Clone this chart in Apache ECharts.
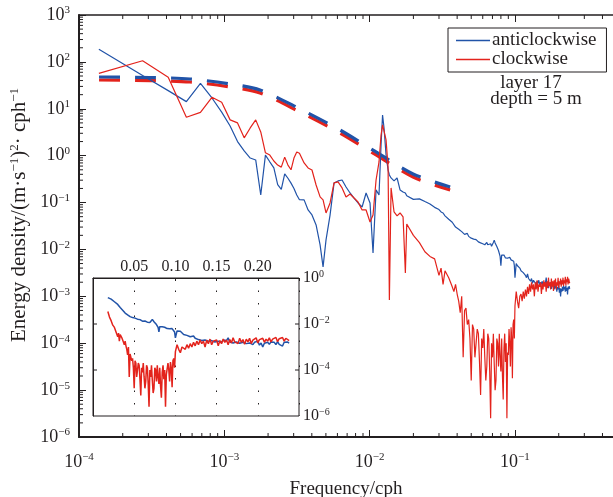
<!DOCTYPE html>
<html><head><meta charset="utf-8">
<script src="https://cdn.jsdelivr.net/npm/echarts@6/dist/echarts.min.js"></script>
<style>html,body{margin:0;padding:0;background:#fff}#c{width:613px;height:497px}</style>
</head><body><div id="c"></div>
<script>
// ---- data (frequency in cph, energy density in (m/s)^2/cph) ----
const lowFreq = [1.37e-4,2.74e-4,4.11e-4,5.48e-4,6.85e-4,8.22e-4,9.59e-4,1.096e-3,1.233e-3,1.37e-3,1.507e-3,1.644e-3,1.781e-3,1.918e-3,2.055e-3,2.192e-3,2.329e-3,2.466e-3,2.603e-3,2.74e-3,2.877e-3,3.014e-3,3.151e-3,3.288e-3];
const lowBlue = [186,51,24.4,14.2,35,17,8.5,4.3,2.0,1.26,0.89,0.81,0.145,1.03,0.74,0.55,0.24,0.19,0.41,0.33,0.26,0.20,0.145,0.115];
const lowRed  = [57,106,47,6.6,8.4,17.6,13.8,5.8,5.0,2.4,3.9,5.8,3.2,1.15,1.03,0.77,0.63,0.57,0.93,0.63,0.5,0.89,1.2,1.13];

const midFreq = [3.54e-3,3.77e-3,4.01e-3,4.28e-3,4.56e-3,4.78e-3,5.01e-3,5.34e-3,5.69e-3,6.06e-3,6.46e-3,6.88e-3,7.33e-3,7.81e-3,8.32e-3,8.87e-3,9.45e-3,1.006e-2,1.055e-2,1.107e-2,1.16e-2,1.198e-2,1.227e-2,1.256e-2,1.297e-2,1.339e-2,1.367e-2,1.404e-2,1.472e-2,1.544e-2,1.619e-2,1.698e-2,1.761e-2];
const midBlue = [0.114,0.0695,0.0544,0.0333,0.0125,0.00424,0.016,0.054,0.262,0.289,0.303,0.215,0.16,0.125,0.098,0.0805,0.16,0.098,0.0084,0.186,0.145,1.69,7.38,3.9,1.03,0.495,0.388,0.335,0.289,0.335,0.186,0.168,0.16];
const midRed  = [0.698,0.547,0.495,0.237,0.132,0.114,0.06,0.098,0.262,0.275,0.205,0.132,0.152,0.125,0.103,0.0695,0.0695,0.0385,0.0544,0.303,0.734,2.76,4.52,4.1,2.16,0.574,0.00084,0.205,0.063,0.0518,0.06,0.0493,0.00315];

const hfAFreq = [0.018,0.020,0.022,0.024,0.026,0.028];
const hfABlue = [1.4e-1,1.17e-1,1.2e-1,1.05e-1,9.3e-2,7.9e-2];
const hfARed  = [3.5e-2,2.0e-2,1.4e-2,8.9e-3,7.1e-3,6.3e-3];

const troughFreq = [
0.030,0.031,0.032,0.033,0.034,0.035,0.036,0.037,0.038,0.039,
0.040,0.041,0.042,0.043,0.044,0.045,0.046,0.047,0.048,0.049,
0.050,0.051,0.052,0.053,0.054,0.055,0.056,0.057,0.058,0.059,
0.060,0.061,0.062,0.063,0.064,0.065,0.066,0.067,0.068,0.069,
0.070,0.071,0.072,0.073,0.074,0.075,0.076,0.077,0.078,0.079,
0.080,0.081,0.082,0.083,0.084,0.085,0.086,0.087,0.088,0.089,
0.090,0.091,0.092,0.093,0.094,0.095,0.096,0.097,0.098,0.099,
0.100];
const troughBlue = [
7.1e-2,6.3e-2,6.0e-2,5.2e-2,5.0e-2,4.4e-2,4.0e-2,3.8e-2,3.5e-2,3.0e-2,
2.8e-2,2.7e-2,2.5e-2,2.4e-2,2.3e-2,2.1e-2,2.0e-2,2.2e-2,1.9e-2,1.8e-2,
1.74e-2,1.8e-2,1.66e-2,1.58e-2,1.62e-2,1.5e-2,1.45e-2,1.55e-2,1.38e-2,1.45e-2,
1.32e-2,1.38e-2,1.26e-2,1.35e-2,1.41e-2,1.26e-2,1.2e-2,1.32e-2,1.32e-2,1.17e-2,
1.12e-2,1.41e-2,1.58e-2,1.38e-2,1.26e-2,1.15e-2,1.05e-2,9.5e-3,8.9e-3,7.1e-3,
4.5e-3,7.6e-3,7.1e-3,7.9e-3,7.6e-3,6.9e-3,6.6e-3,7.2e-3,7.1e-3,6.5e-3,
6.3e-3,6.9e-3,6.8e-3,6.2e-3,6.0e-3,6.5e-3,6.3e-3,5.8e-3,5.6e-3,4.5e-3,
2.5e-3];
const troughRed = [
2.8e-3,4.0e-3,1.8e-3,3.5e-3,3.5e-3,2.5e-3,2.0e-3,1.6e-3,1.26e-3,1.8e-3,
1.12e-3,7.9e-4,4.5e-4,1.0e-3,5.0e-5,5.0e-4,5.6e-4,2.5e-4,3.2e-4,1.26e-4,
1.6e-5,2.5e-4,2.0e-4,5.0e-5,1.0e-4,2.0e-4,1.6e-4,4.0e-5,7.9e-6,1.26e-4,
7.9e-5,2.0e-4,5.0e-5,1.6e-5,3.2e-5,1.6e-4,1.26e-4,2.5e-5,2.5e-6,1.0e-4,
5.0e-5,1.6e-4,3.5e-5,1.0e-5,1.6e-5,1.26e-4,1.0e-4,3.2e-5,1.6e-4,5.0e-5,
2.5e-5,1.26e-4,2.0e-5,6.3e-6,7.9e-5,1.6e-4,4.0e-5,1.0e-4,2.5e-6,6.3e-5,
5.6e-5,2.0e-4,1.0e-4,3.2e-5,2.2e-4,1.26e-4,1.8e-5,2.5e-4,3.2e-4,1.26e-4,
6.3e-4];

const hfBFreq = [
0.102,0.104,0.106,0.108,0.110,0.112,0.114,0.116,
0.118,0.120,0.122,0.124,0.126,0.128,0.130,0.132,0.134,0.136,
0.138,0.140,0.142,0.144,0.146,0.148,0.150,0.152,0.154,0.156,
0.158,0.160,0.162,0.164,0.166,0.168,0.170,0.172,0.174,0.176,
0.178,0.180,0.182,0.184,0.186,0.188,0.190,0.192,0.194,0.196,
0.198,0.200,0.202,0.204,0.206,0.208,0.210,0.212,0.214,0.216,
0.218,0.220,0.222,0.224,0.226,0.228,0.230,0.232,0.234,0.236,
0.238];
const hfBBlue = [
5.0e-3,4.5e-3,4.8e-3,4.0e-3,3.5e-3,3.8e-3,3.2e-3,3.3e-3,
2.8e-3,2.5e-3,3.0e-3,2.4e-3,2.6e-3,2.1e-3,2.4e-3,1.9e-3,2.2e-3,2.0e-3,
2.4e-3,1.8e-3,2.1e-3,1.9e-3,2.2e-3,1.66e-3,2.0e-3,1.8e-3,2.1e-3,1.6e-3,
2.0e-3,1.7e-3,1.9e-3,2.5e-3,1.66e-3,1.9e-3,1.5e-3,1.8e-3,1.66e-3,2.0e-3,
1.45e-3,1.7e-3,1.6e-3,1.9e-3,1.4e-3,1.66e-3,1.5e-3,1.7e-3,1.26e-3,1.6e-3,
1.4e-3,1.8e-3,1.2e-3,1.5e-3,1.0e-3,1.45e-3,1.26e-3,1.6e-3,1.3e-3,1.66e-3,
1.4e-3,1.6e-3,1.26e-3,1.7e-3,1.3e-3,1.5e-3,1.1e-3,1.6e-3,1.4e-3,1.66e-3,
1.45e-3];
const hfBRed = [
1.26e-3,7.9e-4,5.6e-4,1.0e-3,1.12e-3,7.9e-4,1.26e-3,8.9e-4,
1.4e-3,1.0e-3,1.6e-3,1.12e-3,1.8e-3,1.26e-3,2.0e-3,1.4e-3,1.8e-3,1.0e-3,
2.0e-3,1.4e-3,2.2e-3,1.26e-3,1.8e-3,1.6e-3,2.0e-3,1.12e-3,1.9e-3,1.4e-3,
2.2e-3,1.6e-3,2.0e-3,1.26e-3,2.1e-3,1.5e-3,2.5e-3,1.66e-3,2.0e-3,1.4e-3,
2.4e-3,1.6e-3,2.1e-3,1.3e-3,2.2e-3,1.66e-3,2.4e-3,1.4e-3,2.0e-3,1.7e-3,
2.5e-3,1.5e-3,2.1e-3,1.8e-3,2.4e-3,1.6e-3,2.2e-3,1.8e-3,2.5e-3,1.66e-3,
2.2e-3,1.9e-3,2.6e-3,1.7e-3,2.3e-3,2.0e-3,2.6e-3,1.8e-3,2.4e-3,2.1e-3,
1.9e-3];

// dashed reference curves
const dashFreq = [1.374e-4,3.08e-4,5.81e-4,1.094e-3,1.76e-3,3.32e-3,6.25e-3,1.107e-2,1.99e-2,3.58e-2];
const dashBlue = [47.6,46.4,43.2,33.8,25.2,9.9,3.53,1.2,0.407,0.215];
const dashRed  = [41.1,40.0,37.3,29.2,21.7,8.5,3.05,1.04,0.35,0.186];

// tick labels
const mainXTickExps = [-4,-3,-2,-1,0];
const mainYTickExps = [3,2,1,0,-1,-2,-3,-4,-5,-6];
const insetXTickLabels = ['0.05','0.10','0.15','0.20'];
const insetYTickExps = [0,-2,-4,-6];
const minorMantissas = [2,3,4,5,6,7,8,9];

// ---- styling ----
const FONT = 'Liberation Serif';
const INK = '#231f20';
const BLUE = '#2153a8';
const RED = '#e3231c';

function pairs(f, v) { return f.map((x, i) => [x, v[i]]); }
const hfFreq = hfAFreq.concat(troughFreq, hfBFreq);
const hfBlue = hfABlue.concat(troughBlue, hfBBlue);
const hfRed = hfARed.concat(troughRed, hfBRed);
const blueAll = pairs(lowFreq.concat(midFreq, hfFreq), lowBlue.concat(midBlue, hfBlue));
const redAll = pairs(lowFreq.concat(midFreq, hfFreq), lowRed.concat(midRed, hfRed));
const blueInset = pairs(hfFreq, hfBlue);
const redInset = pairs(hfFreq, hfRed);

function supText(e) { return '{b|10}{s|' + (e < 0 ? '\u2212' : '') + Math.abs(e) + '}'; }
const richMain = {
  b: { fontFamily: FONT, fontSize: 18, color: INK, lineHeight: 20 },
  s: { fontFamily: FONT, fontSize: 11, color: INK, lineHeight: 12, verticalAlign: 'top' }
};
const richInset = {
  b: { fontFamily: FONT, fontSize: 16, color: INK, lineHeight: 18 },
  s: { fontFamily: FONT, fontSize: 10, color: INK, lineHeight: 11, verticalAlign: 'top' }
};

// minor tick positions (log decades)
const xMinor = [], yMinor = [];
mainXTickExps.slice(0, -1).forEach(e => minorMantissas.forEach(m => xMinor.push([m * Math.pow(10, e), 1e-6])));
mainYTickExps.slice(1).forEach(e => minorMantissas.forEach(m => yMinor.push([1e-4, m * Math.pow(10, e)])));
const insetYTicks = insetYTickExps.slice(1, -1).map(e => [0.1, Math.pow(10, e)]);

function line(x1, y1, x2, y2) {
  return { type: 'line', shape: { x1, y1, x2, y2 }, style: { stroke: INK, lineWidth: 1 } };
}

const option = {
  animation: false,
  backgroundColor: '#fff',
  grid: [
    { left: 79, top: 15, width: 581.3, height: 422, show: false, containLabel: false, outerBoundsMode: 'none' },
    { left: 93, top: 278, width: 206, height: 138, show: true, backgroundColor: '#fff', borderColor: INK, borderWidth: 1, containLabel: false, outerBoundsMode: 'none' }
  ],
  xAxis: [
    { gridIndex: 0, type: 'log', logBase: 10, min: 1e-4, max: 1, position: 'bottom',
      axisLine: { lineStyle: { color: INK, width: 2 } },
      axisTick: { inside: true, length: 7, lineStyle: { color: INK, width: 1 } },
      axisLabel: { margin: 15, formatter: v => { const e = Math.round(Math.log10(v)); return mainXTickExps.includes(e) ? supText(e) : ''; }, rich: richMain },
      splitLine: { show: false } },
    { gridIndex: 0, type: 'log', logBase: 10, min: 1e-4, max: 1, position: 'top',
      axisLine: { lineStyle: { color: INK, width: 1.5 } },
      axisTick: { inside: true, length: 7, lineStyle: { color: INK, width: 1 } },
      axisLabel: { show: false }, splitLine: { show: false } },
    { gridIndex: 1, type: 'value', min: 0, max: 0.25, interval: 0.05, position: 'top',
      axisLine: { show: true, lineStyle: { color: INK, width: 1 } },
      axisTick: { show: true, inside: true, length: 3, lineStyle: { color: INK } },
      axisLabel: { margin: 3, color: INK, fontFamily: FONT, fontSize: 16,
        formatter: v => { const s = Number(v).toFixed(2); return insetXTickLabels.includes(s) ? s : ''; } },
      splitLine: { show: true, lineStyle: { color: INK, width: 1, type: [1.5, 11] } } }
  ],
  yAxis: [
    { gridIndex: 0, type: 'log', logBase: 10, min: 1e-6, max: 1e3,
      axisLine: { lineStyle: { color: INK, width: 2 } },
      axisTick: { inside: true, length: 7, lineStyle: { color: INK, width: 1 } },
      axisLabel: { margin: 9, interval: 0, formatter: v => supText(Math.round(Math.log10(v))), rich: richMain },
      splitLine: { show: false } },
    { gridIndex: 1, type: 'log', logBase: 10, min: 1e-6, max: 1, position: 'right',
      axisLine: { show: true, lineStyle: { color: INK, width: 1 } },
      axisTick: { show: false },
      axisLabel: { margin: 4, interval: 0, formatter: v => { const e = Math.round(Math.log10(v)); return insetYTickExps.includes(e) ? supText(e) : ''; }, rich: richInset },
      splitLine: { show: false } }
  ],
  legend: {
    data: ['anticlockwise', 'clockwise'], orient: 'vertical', left: 448, top: 28,
    icon: 'rect', itemWidth: 34, itemHeight: 1.6, itemGap: 0, selectedMode: false,
    borderColor: INK, borderWidth: 1, padding: [3, 10, 3, 8],
    textStyle: { fontFamily: FONT, fontSize: 19, color: INK, lineHeight: 16, padding: [0, 0, 0, -3] }
  },
  graphic: [
    { type: 'text', x: 19, y: 215, rotation: Math.PI / 2,
      style: { text: 'Energy density/(m\u00b7s{s|\u22121}){s|2}\u00b7 cph{s|\u22121}', fontFamily: FONT, fontSize: 21, fill: INK,
        align: 'center', verticalAlign: 'middle', textAlign: 'center', textVerticalAlign: 'middle',
        rich: { s: { fontFamily: FONT, fontSize: 13, fill: INK, color: INK, verticalAlign: 'top', lineHeight: 12 } } } },
    { type: 'text', x: 346, y: 489, style: { text: 'Frequency/cph', fontFamily: FONT, fontSize: 19, fill: INK, align: 'center', verticalAlign: 'middle', textAlign: 'center', textVerticalAlign: 'middle' } },
    { type: 'text', x: 531, y: 83, style: { text: 'layer 17', fontFamily: FONT, fontSize: 19, fill: INK, align: 'center', verticalAlign: 'middle', textAlign: 'center', textVerticalAlign: 'middle' } },
    { type: 'text', x: 536, y: 99, style: { text: 'depth = 5 m', fontFamily: FONT, fontSize: 19, fill: INK, align: 'center', verticalAlign: 'middle', textAlign: 'center', textVerticalAlign: 'middle' } }
  ],
  series: [
    { name: 'clockwise fit', type: 'line', xAxisIndex: 0, yAxisIndex: 0, data: pairs(dashFreq, dashRed), smooth: 0.3, symbol: 'none', z: 2,
      lineStyle: { color: RED, width: 3.2, type: [21, 15] }, itemStyle: { color: RED } },
    { name: 'anticlockwise fit', type: 'line', xAxisIndex: 0, yAxisIndex: 0, data: pairs(dashFreq, dashBlue), smooth: 0.3, symbol: 'none', z: 2,
      lineStyle: { color: BLUE, width: 3.2, type: [21, 15] }, itemStyle: { color: BLUE } },
    { name: 'anticlockwise', type: 'line', xAxisIndex: 0, yAxisIndex: 0, data: blueAll, symbol: 'none', z: 3,
      lineStyle: { color: BLUE, width: 1.2 }, itemStyle: { color: BLUE } },
    { name: 'clockwise', type: 'line', xAxisIndex: 0, yAxisIndex: 0, data: redAll, symbol: 'none', z: 3,
      lineStyle: { color: RED, width: 1.2 }, itemStyle: { color: RED } },
    { name: 'anticlockwise', type: 'line', xAxisIndex: 2, yAxisIndex: 1, data: blueInset, symbol: 'none', z: 3,
      lineStyle: { color: BLUE, width: 1.5 }, itemStyle: { color: BLUE } },
    { name: 'clockwise', type: 'line', xAxisIndex: 2, yAxisIndex: 1, data: redInset, symbol: 'none', z: 3,
      lineStyle: { color: RED, width: 1.5 }, itemStyle: { color: RED } },
    { name: 'xminor', type: 'custom', xAxisIndex: 0, yAxisIndex: 0, data: xMinor, silent: true, clip: false, z: 5,
      renderItem: (params, api) => {
        const v = api.value(0);
        const b = api.coord([v, 1e-6]), t = api.coord([v, 1e3]);
        return { type: 'group', children: [line(b[0], b[1], b[0], b[1] - 4), line(t[0], t[1], t[0], t[1] + 4)] };
      } },
    { name: 'yminor', type: 'custom', xAxisIndex: 0, yAxisIndex: 0, data: yMinor, silent: true, clip: false, z: 5,
      renderItem: (params, api) => {
        const p = api.coord([1e-4, api.value(1)]);
        return line(p[0], p[1], p[0] + 4, p[1]);
      } },
    { name: 'insetyticks', type: 'custom', xAxisIndex: 2, yAxisIndex: 1, data: insetYTicks, silent: true, clip: false, z: 5,
      renderItem: (params, api) => {
        const v = api.value(1);
        const l = api.coord([0, v]), r = api.coord([0.25, v]);
        return { type: 'group', children: [line(l[0], l[1], l[0] + 4, l[1]), line(r[0], r[1], r[0] - 4, r[1])] };
      } }
  ]
};

const chart = echarts.init(document.getElementById('c'), null, { renderer: 'canvas', width: 613, height: 497 });
chart.setOption(option);
</script>
</body></html>
